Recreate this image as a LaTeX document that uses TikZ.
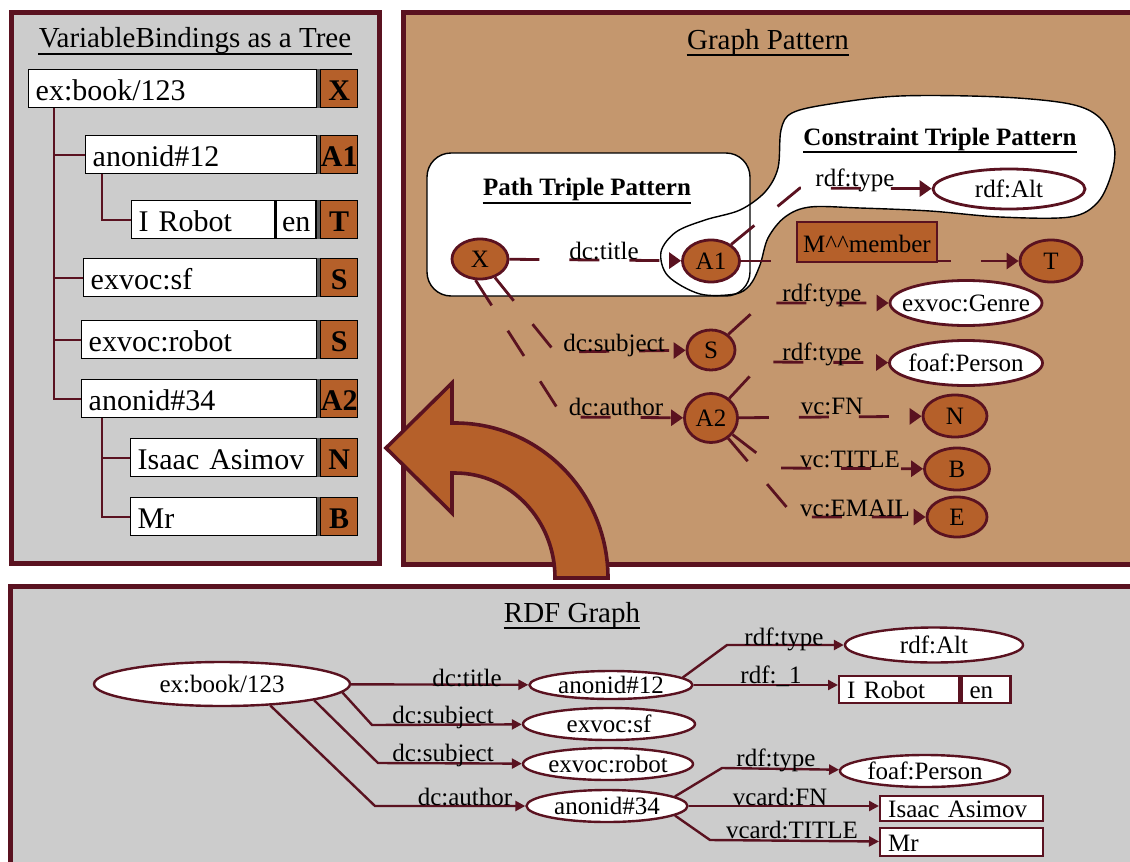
\documentclass[tikz,border=0pt]{standalone}
\usepackage{fontspec}
\setmainfont{Liberation Serif}
\usetikzlibrary{arrows.meta,shapes.geometric,calc}

\definecolor{maroon}{RGB}{90,18,32}
\definecolor{tan}{RGB}{196,151,110}
\definecolor{burnt}{RGB}{181,96,42}
\definecolor{panelgray}{RGB}{204,204,204}
\definecolor{stripgray}{RGB}{90,90,90}

% zero-width text box so an ellipse keeps its own given size
\newcommand{\zw}[1]{\makebox[0pt]{#1}}

\begin{document}
\begin{tikzpicture}[x=0.5pt,y=-0.5pt,
  panel/.style={draw=maroon,line width=2.5pt},
  ptitle/.style={font=\fontsize{14.5}{17}\selectfont,inner sep=0pt,anchor=base},
  btitle/.style={font=\bfseries\fontsize{12.5}{15}\selectfont,inner sep=0pt,anchor=base},
  uline/.style={line width=1.4pt,black},
  wbox/.style={rectangle,draw=black,line width=0.7pt,fill=white,anchor=north west,
    inner xsep=3.5pt,inner ysep=0pt,minimum height=19pt,text height=12pt,text depth=0pt,
    align=left,font=\fontsize{15}{18}\selectfont},
  tagbox/.style={rectangle,draw=black,line width=0.7pt,fill=burnt,anchor=north west,
    inner sep=0pt,minimum width=18.5pt,minimum height=19pt,text height=12pt,text depth=0pt,
    font=\bfseries\fontsize{15}{18}\selectfont},
  tree/.style={draw=maroon,line width=0.8pt},
  vnode/.style={ellipse,draw=maroon,line width=1.4pt,fill=burnt,inner sep=0pt,
    text height=8.3pt,text depth=0pt,font=\fontsize{12.5}{15}\selectfont},
  cnode/.style={vnode,fill=white},
  pedge/.style={draw=maroon,line width=1.4pt,dash pattern=on 15pt off 15pt,
    -{Triangle[length=6pt,width=8pt]}},
  elabel/.style={font=\fontsize{12.5}{15}\selectfont,inner sep=0pt,anchor=base},
  rnode/.style={ellipse,draw=maroon,line width=1.2pt,fill=white,inner sep=0pt,
    text height=8pt,text depth=0pt,font=\fontsize{12.5}{15}\selectfont},
  rbox/.style={rectangle,draw=maroon,line width=1.2pt,fill=white,anchor=north west,
    inner xsep=4pt,inner ysep=0pt,text height=9pt,text depth=0pt,align=left,
    font=\fontsize{12.5}{15}\selectfont},
  redge/.style={draw=maroon,line width=1.2pt,-{Triangle[length=5pt,width=5pt]}}
]
\useasboundingbox (0,0) rectangle (1130,862);
\clip (0,0) rectangle (1130,862);

%% ---------------- VariableBindings panel ----------------
\filldraw[panel,fill=panelgray] (11,12.5) rectangle (379,563);
\node[ptitle] (vbt) at (195,47) {VariableBindings as a Tree};
\draw[uline] ([yshift=-3.5pt]vbt.base west) -- ([yshift=-3.5pt]vbt.base east);

\node[wbox,text width=137pt] (b1) at (28,69) {ex:book/123};
\node[tagbox] (b1t) at (320,69) {X};
\node[wbox,text width=108.5pt] (b2) at (85,135) {anonid\#12};
\node[tagbox] (b2t) at (320,135) {A1};
\node[wbox,text width=64.5pt] (b3) at (131,200) {I Robot};
\node[wbox,text width=14pt,inner xsep=3pt] (b3e) at (b3.north east) {en};
\node[tagbox] (b3t) at (320,200) {T};
\node[wbox,text width=109.5pt] (b4) at (83,258) {exvoc:sf};
\node[tagbox] (b4t) at (320,258) {S};
\node[wbox,text width=110.5pt] (b5) at (81,320) {exvoc:robot};
\node[tagbox] (b5t) at (320,320) {S};
\node[wbox,text width=110.5pt] (b6) at (81,379) {anonid\#34};
\node[tagbox] (b6t) at (320,379) {A2};
\node[wbox,text width=86pt] (b7) at (130,438) {Isaac Asimov};
\node[tagbox] (b7t) at (320,438) {N};
\node[wbox,text width=86pt] (b8) at (130,497) {Mr};
\node[tagbox] (b8t) at (320,497) {B};

\foreach \w/\t in {b1/b1t,b2/b2t,b3e/b3t,b4/b4t,b5/b5t,b6/b6t,b7/b7t,b8/b8t}
  \fill[stripgray] (\w.north east) rectangle (\t.south west);

\draw[tree] ($(b1.south west)+(26,0)$) coordinate (trunk) |- (b6.west);
\draw[tree] (trunk |- b2.west) -- (b2.west);
\draw[tree] (trunk |- b4.west) -- (b4.west);
\draw[tree] (trunk |- b5.west) -- (b5.west);
\draw[tree] ($(b2.south west)+(17,0)$) |- (b3.west);
\draw[tree] ($(b6.south west)+(21,0)$) coordinate (trunk2) |- (b8.west);
\draw[tree] (trunk2 |- b7.west) -- (b7.west);

%% ---------------- Graph Pattern panel ----------------
\filldraw[panel,fill=tan] (403,12.5) rectangle (1145,564);
\node[ptitle] (gpt) at (768,49) {Graph Pattern};
\draw[uline] ([yshift=-3pt]gpt.base west) -- ([yshift=-3pt]gpt.base east);

% white regions: path triple box and constraint triple blob
\fill[white,rounded corners=12pt] (427,153) rectangle (750,296);
\fill[white] plot[smooth cycle,tension=0.55] coordinates {
  (700,294) (668,276) (661,252) (676,232) (705,220) (740,210) (765,192) (778,168)
  (781,130) (792,113) (830,104) (900,96) (1000,97) (1070,104) (1100,118) (1114,145)
  (1112,172) (1098,202) (1070,217) (1000,217) (930,211) (860,208) (810,207) (785,217)
  (768,238) (760,265) (750,285) (735,294)};
\draw[line width=0.7pt,rounded corners=12pt] (427,153) rectangle (750,296);
\draw[line width=0.7pt] plot[smooth cycle,tension=0.55] coordinates {
  (700,294) (668,276) (661,252) (676,232) (705,220) (740,210) (765,192) (778,168)
  (781,130) (792,113) (830,104) (900,96) (1000,97) (1070,104) (1100,118) (1114,145)
  (1112,172) (1098,202) (1070,217) (1000,217) (930,211) (860,208) (810,207) (785,217)
  (768,238) (760,265) (750,285) (735,294)};

\node[btitle] (ptp) at (587,195) {Path Triple Pattern};
\draw[uline] ([yshift=-4pt]ptp.base west) -- ([yshift=-4pt]ptp.base east);
\node[btitle] (ctp) at (940,145) {Constraint Triple Pattern};
\draw[uline] ([yshift=-3.5pt]ctp.base west) -- ([yshift=-3.5pt]ctp.base east);

% pattern nodes
\node[vnode,minimum width=28pt,minimum height=20pt] (X) at (480,259) {X};
\node[vnode,minimum width=28.5pt,minimum height=21pt] (A1) at (711,261) {A1};
\node[vnode,minimum width=31pt,minimum height=21pt] (T) at (1051,261) {T};
\node[vnode,minimum width=24pt,minimum height=20pt] (S) at (711,350) {S};
\node[vnode,minimum width=26.5pt,minimum height=24.5pt] (A2) at (711,418) {A2};
\node[vnode,minimum width=32pt,minimum height=21pt] (N) at (955,416) {N};
\node[vnode,minimum width=32.5pt,minimum height=21pt] (B) at (957,469) {B};
\node[vnode,minimum width=30pt,minimum height=20pt] (E) at (957,517) {E};
\node[cnode,minimum width=76pt,minimum height=20pt] (alt) at (1009,189) {\zw{rdf:Alt}};
\node[cnode,minimum width=76pt,minimum height=22.5pt] (genre) at (966,303) {\zw{exvoc:Genre}};
\node[cnode,minimum width=76.5pt,minimum height=22.5pt] (person) at (966,363) {\zw{foaf:Person}};

% bends of the pattern edges
\coordinate (kAlt) at (800,188);
\coordinate (kGenre) at (763,303);
\coordinate (kPerson) at (763,362);
\coordinate (kB) at (776,468);
\coordinate (kE) at (795,517);
\coordinate (kS) at (555,352);
\coordinate (kA2) at (563,417);

\draw[pedge] (X) -- (A1);
\draw[pedge] (A1) -- (kAlt) -- (alt);
\draw[pedge] (A1) -- (T);
\draw[pedge] (S) -- (kGenre) -- (genre);
\draw[pedge] (A2) -- (kPerson) -- (person);
\draw[pedge] (A2) -- (N);
\draw[pedge] (A2) -- (kB) -- (B);
\draw[pedge] (A2) -- (kE) -- (E);
\draw[pedge] (X) -- (kS) -- (S);
\draw[pedge] (X.258) -- (kA2) -- (A2);

\node[draw=maroon,line width=1.4pt,fill=burnt,minimum width=70pt,minimum height=20pt,
  inner sep=0pt,text height=10pt,text depth=0pt,font=\fontsize{12.5}{15}\selectfont]
  (mm) at (867,242) {M\textasciicircum\textasciicircum member};

\node[elabel] (pl1) at (604,259) {dc:title};
\node[elabel] (pl2) at (855,186) {rdf:type};
\node[elabel] (pl3) at (614,351) {dc:subject};
\node[elabel] (pl4) at (616,415) {dc:author};
\node[elabel] (pl5) at (822,301) {rdf:type};
\node[elabel] (pl6) at (822,360) {rdf:type};
\node[elabel] (pl7) at (832,414) {vc:FN};
\node[elabel] (pl8) at (850,467) {vc:TITLE};
\node[elabel] (pl9) at (855,516) {vc:EMAIL};

% curved arrow from the RDF graph up to the bindings
\filldraw[draw=maroon,fill=burnt,line width=1.8pt,line join=miter]
  (608,578) arc[start angle=0,end angle=90,x radius=76.5pt,y radius=77.5pt]
  -- (452,423) -- (452,383) -- (386,448) -- (452,513) -- (452,473) -- (455,473)
  arc[start angle=90,end angle=0,x radius=50pt,y radius=52.5pt] -- cycle;

%% ---------------- RDF Graph panel ----------------
\filldraw[panel,fill=panelgray] (10,586) rectangle (1145,875);
\node[ptitle] (rgt) at (572,622) {RDF Graph};
\draw[uline] ([yshift=-3pt]rgt.base west) -- ([yshift=-3pt]rgt.base east);

\node[rnode,minimum width=128pt,minimum height=22pt] (book) at (222,684) {\zw{ex:book/123}};
\node[rnode,minimum width=81.5pt,minimum height=14pt] (anon12) at (611,685) {\zw{anonid\#12}};
\node[rnode,minimum width=86pt,minimum height=16pt] (exsf) at (609,724) {\zw{exvoc:sf}};
\node[rnode,minimum width=85pt,minimum height=16pt] (exrobot) at (608,764) {\zw{exvoc:robot}};
\node[rnode,minimum width=80.5pt,minimum height=16pt] (anon34) at (607,806) {\zw{anonid\#34}};
\node[rnode,minimum width=89pt,minimum height=17.5pt] (ralt) at (934,645) {\zw{rdf:Alt}};
\node[rnode,minimum width=85pt,minimum height=16pt] (rperson) at (925,771) {\zw{foaf:Person}};

\node[rbox,text width=52pt,minimum height=13.5pt] (irobot) at (838,675) {I Robot};
\node[rbox,text width=16.5pt,minimum height=13.5pt] (ren) at (irobot.north east) {en};
\node[rbox,text width=73.5pt,minimum height=12.5pt] (isaac) at (879,795) {Isaac Asimov};
\node[rbox,text width=73.5pt,minimum height=14pt] (mr) at (879,827) {Mr};

\coordinate (rkSf) at (372,725);
\coordinate (rkRobot) at (378,763);
\coordinate (rkAuthor) at (375,806);
\coordinate (rkAlt) at (727,645);
\coordinate (rkPerson) at (722,768);
\coordinate (rkMr) at (710,840);

\draw[redge] (book) -- (anon12);
\draw[redge] (book.-4) -- (rkSf) -- (exsf);
\draw[redge] (book.-10) -- (rkRobot) -- (exrobot);
\draw[redge] (book.-24) -- (rkAuthor) -- (anon34);
\draw[redge] (anon12.6) -- (rkAlt) -- (ralt);
\draw[redge] (anon12) -- (anon12 -| irobot.west);
\draw[redge] (anon34.8) -- (rkPerson) -- (rperson);
\draw[redge] (anon34) -- (anon34 -| isaac.west);
\draw[redge] (anon34.-8) -- (rkMr) -- (mr);

\node[elabel] (rl1) at (467,686) {dc:title};
\node[elabel] (rl2) at (443,723) {dc:subject};
\node[elabel] (rl3) at (443,761) {dc:subject};
\node[elabel] (rl4) at (465,805) {dc:author};
\node[elabel] (rl5) at (784,645) {rdf:type};
\node[elabel] (rl6) at (771,683) {rdf:\_1};
\node[elabel] (rl7) at (776,766) {rdf:type};
\node[elabel] (rl8) at (780,805) {vcard:FN};
\node[elabel] (rl9) at (792,838) {vcard:TITLE};
\end{tikzpicture}
\end{document}
